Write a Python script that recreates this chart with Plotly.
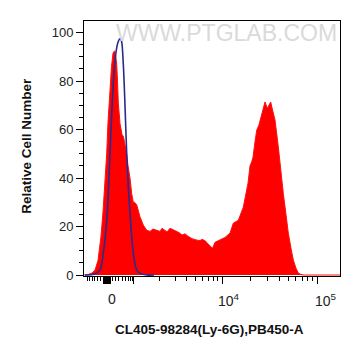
import math
import plotly.graph_objects as go

# Red histogram (sample), x in display channels (0..256 across the plot), y = relative cell number
channel_red = [0, 4, 8, 11, 14, 17, 19, 21, 22.7, 24, 26, 27.5, 29, 30.5, 31.5, 32.7, 33.5, 34.3, 36, 38,
               39.5, 42.7, 44, 46, 47.7, 49.3, 50.5, 52.7, 56, 59.3, 62.7, 66, 69, 72, 76, 78, 81, 83, 86, 89,
               91, 95, 98, 101, 104, 108, 113, 116, 118, 121, 123, 126, 128.5, 131, 136, 141, 146, 149.3,
               154.3, 159.3, 164, 166, 167.7, 169, 171, 172.7, 175, 178, 181, 183.3, 184.5, 186.7, 188, 191,
               194.3, 197, 199.3, 202, 204.3, 207, 209.3, 212, 214.3, 217, 220, 256]
count_red = [0, 0.2, 0.8, 2, 6, 16, 26, 38, 50, 63, 77, 86, 91.5, 92.5, 91, 87, 80, 71, 62.5, 58,
             57, 50, 45, 40, 33.6, 30, 30, 29, 24, 20.6, 18.5, 18, 19, 18.5, 18, 19.3, 18.3, 17.8, 19.3, 18.8,
             18.5, 17.5, 16.5, 17, 16, 15, 14.4, 14.2, 14.7, 14.2, 13.3, 12, 11, 13.5, 14.4, 15.5, 17.3, 21.4,
             22.6, 28, 37.9, 45, 46.7, 48.6, 55, 59.7, 62, 67, 71.4, 68.8, 70, 71.4, 69, 64,
             52.9, 42, 33.7, 25, 17.3, 11, 6.2, 2.8, 0.8, 0.2, 0, 0]

# Blue histogram (control)
channel_blue = [1, 10, 16, 19.3, 23, 26, 29, 31.7, 34, 36, 37.5, 39.3, 41, 42.7, 44.5, 46, 49.3, 52.7, 56, 62.7, 70]
count_blue = [0, 0.3, 2, 9, 24, 50, 77, 91, 96, 97.5, 96.5, 87, 70, 50, 35, 25.5, 9, 2, 0.7, 0, 0]

y_ticks = [0, 20, 40, 60, 80, 100]
y_minor = [v for v in range(5, 105, 5) if v % 20]

# x axis (biexponential display) tick positions in channels
x_major = [19.5 + 0.5 * i for i in range(14)] + [49, 138, 233]
x_minor = ([3, 5.5, 8, 10.5, 13, 16, 28, 31, 34, 38, 41, 44, 46, 48]
           + [49 + 89 * math.log10(k) for k in range(2, 10)]
           + [138 + 95 * math.log10(k) for k in range(2, 10)])
x_label_pos = [28, 145, 242]
x_labels = ["0", "10<sup>4</sup>", "10<sup>5</sup>"]

fig = go.Figure()
fig.add_trace(go.Scatter(x=channel_red, y=count_red, mode="lines", fill="tozeroy",
                         fillcolor="#ff0000", line=dict(color="#ff1010", width=1),
                         hoverinfo="skip", showlegend=False))
fig.add_trace(go.Scatter(x=channel_blue, y=count_blue, mode="lines",
                         line=dict(color="#2b2a8e", width=1.6, shape="spline", smoothing=0.8),
                         hoverinfo="skip", showlegend=False))

font_family = "Liberation Sans, Arial, sans-serif"
annotations = []
for pos, lab in zip(x_label_pos, x_labels):
    annotations.append(dict(x=pos, xref="x", y=-0.05, yref="paper", text=lab, showarrow=False,
                            xanchor="center", yanchor="top",
                            font=dict(family=font_family, size=14, color="#222")))
annotations.append(dict(x=0.492, xref="paper", y=-0.208, yref="paper",
                        text="<b>CL405-98284(Ly-6G),PB450-A</b>", showarrow=False,
                        xanchor="center", yanchor="middle",
                        font=dict(family=font_family, size=13.5, color="#111")))
annotations.append(dict(x=-0.223, xref="paper", y=0.51, yref="paper",
                        text="<b>Relative Cell Number</b>", showarrow=False, textangle=-90,
                        xanchor="center", yanchor="middle",
                        font=dict(family=font_family, size=13.5, color="#111")))
annotations.append(dict(x=0.555, xref="paper", y=0.953, yref="paper",
                        text="WWW.PTGLAB.COM", showarrow=False,
                        xanchor="center", yanchor="middle",
                        font=dict(family=font_family, size=23, color="#dadada")))

fig.update_layout(
    width=361, height=356,
    margin=dict(l=84, r=21, t=21, b=80),
    paper_bgcolor="white", plot_bgcolor="white",
    font=dict(family=font_family, color="#222"),
    annotations=annotations,
    xaxis=dict(range=[0, 256], showline=True, mirror=True, linecolor="black", linewidth=1,
               showgrid=False, zeroline=False, ticks="outside", tickvals=x_major, ticklen=7,
               tickcolor="black", tickwidth=1, showticklabels=False, automargin=False,
               minor=dict(tickvals=x_minor, ticks="outside", ticklen=4, tickcolor="black", tickwidth=1)),
    yaxis=dict(range=[-0.4, 104.8], showline=True, mirror=True, linecolor="black", linewidth=1,
               showgrid=False, zeroline=False, ticks="outside", tickvals=y_ticks, ticklen=7,
               tickcolor="black", tickwidth=1, tickfont=dict(size=13, color="#222"), automargin=False,
               minor=dict(tickvals=y_minor, ticks="outside", ticklen=4, tickcolor="black", tickwidth=1)),
)

fig.write_html("out.html", config={"displayModeBar": False},
               post_script="document.body.style.margin='0px';")
